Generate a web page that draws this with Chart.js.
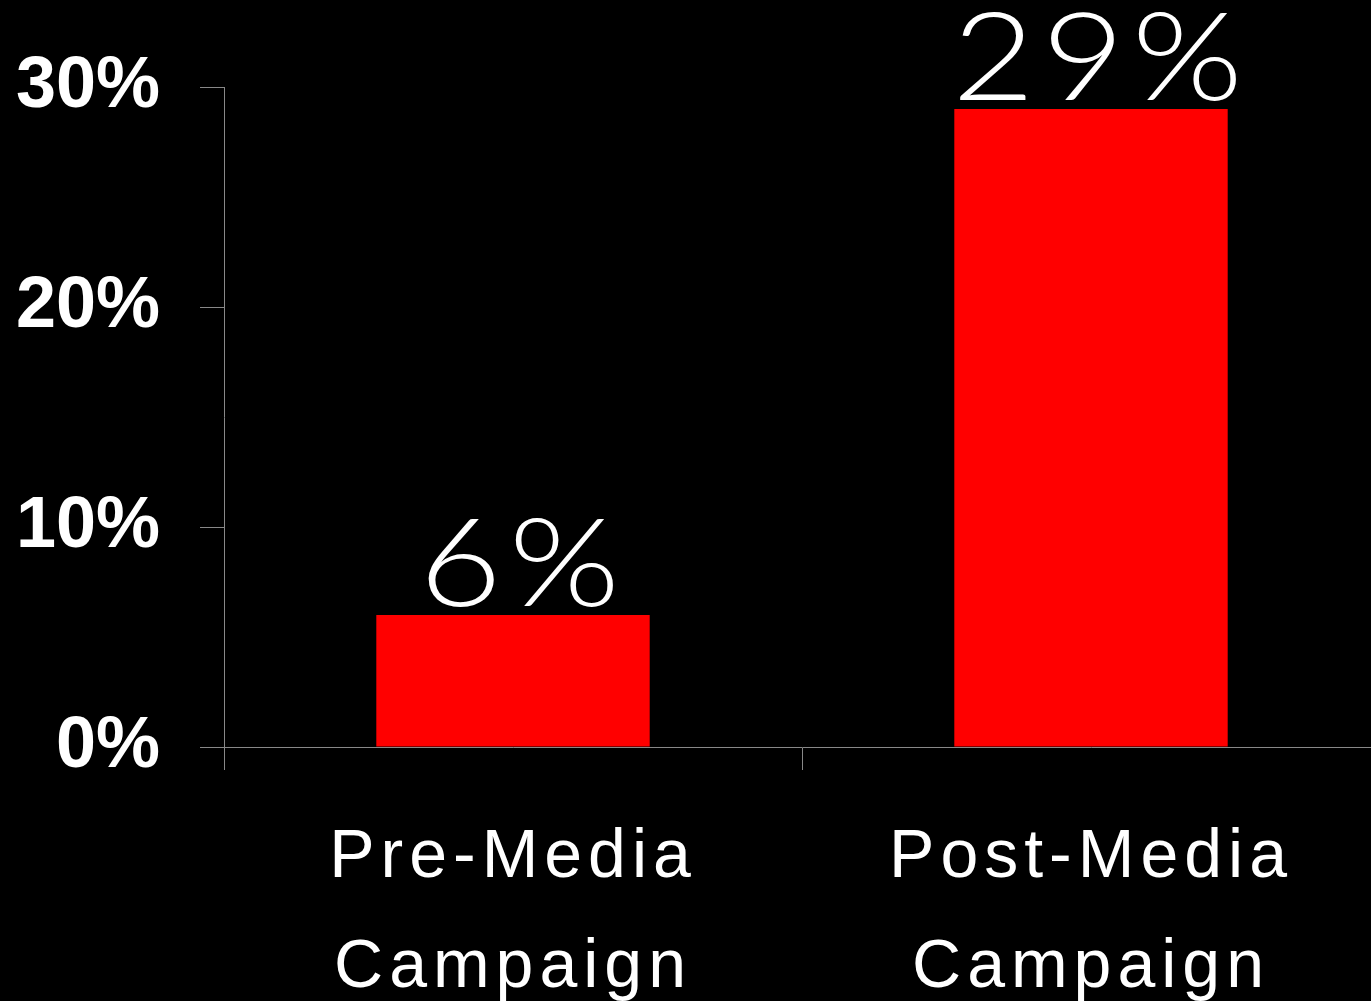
<!DOCTYPE html>
<html>
<head>
    <title>Pre vs Post Media Campaign</title>
    <script src="https://cdn.jsdelivr.net/npm/chart.js"></script>
    <style>
        html, body { margin: 0; padding: 0; background: #000; overflow: hidden; }
        #wrap { width: 1380px; height: 1001px; }
    </style>
</head>
<body>
    <div id="wrap"><canvas id="myChart"></canvas></div>

    <script>
        // chart data
        var categories = [['Pre-Media', 'Campaign'], ['Post-Media', 'Campaign']];
        var shares = [6, 29];
        var yTicks = [0, 10, 20, 30];

        // value labels above bars, then widen letter spacing for the x labels (drawn after datasets)
        var valueLabels = {
            id: 'valueLabels',
            afterDatasetsDraw: function (chart) {
                var ctx = chart.ctx;
                var meta = chart.getDatasetMeta(0);
                meta.data.forEach(function (bar, i) {
                    ctx.save();
                    ctx.fillStyle = '#fff';
                    ctx.font = '300 122px Lato, "Liberation Sans", sans-serif';
                    ctx.textAlign = 'center';
                    ctx.textBaseline = 'alphabetic';
                    ctx.letterSpacing = '6px';
                    ctx.translate(bar.x + 10, bar.y - 9);
                    ctx.scale(1.17, 1);
                    ctx.fillText(shares[i] + '%', 0, 0);
                    ctx.restore();
                });
                ctx.letterSpacing = '6px';
            },
            afterDraw: function (chart) {
                chart.ctx.letterSpacing = '0px';
            }
        };

        var ctx = document.getElementById('myChart').getContext('2d');
        var myChart = new Chart(ctx, {
            type: 'bar',
            data: {
                labels: categories,
                datasets: [{
                    data: shares,
                    backgroundColor: '#ff0000',
                    borderWidth: 0,
                    categoryPercentage: 1,
                    barPercentage: 0.473
                }]
            },
            options: {
                responsive: true,
                maintainAspectRatio: false,
                animation: false,
                layout: { padding: { top: 87, left: 0, right: 0, bottom: 0 } },
                plugins: {
                    legend: { display: false },
                    tooltip: { enabled: false }
                },
                scales: {
                    x: {
                        afterFit: function (s) { s.height = 254; },
                        grid: { drawOnChartArea: false, tickLength: 23, color: '#888' },
                        border: { color: '#888', width: 1 },
                        ticks: {
                            z: 1,
                            color: '#fff',
                            padding: 33,
                            font: { family: '"Liberation Sans", Arial, sans-serif', size: 68, lineHeight: 1.62 }
                        }
                    },
                    y: {
                        min: 0,
                        max: 30,
                        afterFit: function (s) { s.width = 224; },
                        afterBuildTicks: function (s) {
                            s.ticks = yTicks.map(function (v) { return { value: v }; });
                        },
                        grid: { drawOnChartArea: false, tickLength: 24, color: '#888' },
                        border: { color: '#888', width: 1 },
                        ticks: {
                            color: '#fff',
                            padding: 40,
                            font: { family: '"Liberation Sans", Arial, sans-serif', size: 72, weight: 'bold' },
                            callback: function (v) { return v + '%'; }
                        }
                    }
                }
            },
            plugins: [valueLabels]
        });
    </script>
</body>
</html>
